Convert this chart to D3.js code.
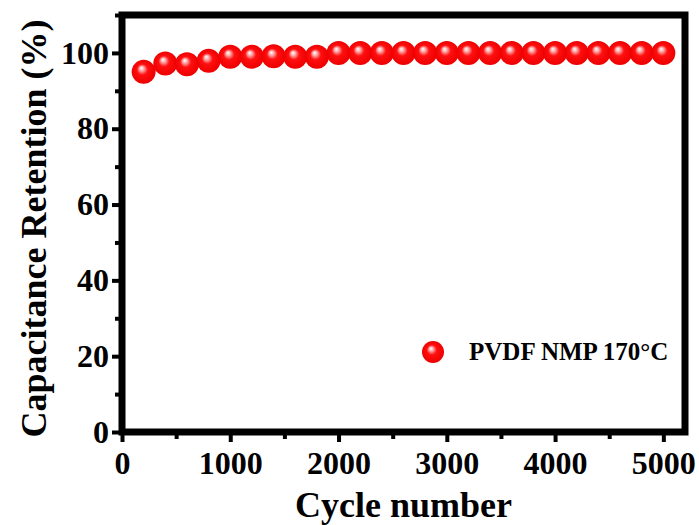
<!DOCTYPE html>
<html>
<head>
<meta charset="utf-8">
<script src="https://cdn.jsdelivr.net/npm/d3@7/dist/d3.min.js"></script>
<style>
  html, body { margin: 0; padding: 0; background: #fff; }
  #chart { width: 699px; height: 525px; }
  text { font-family: "Liberation Serif", "Times New Roman", serif; font-weight: bold; }
</style>
</head>
<body>
<div id="chart"></div>
<script>
// cycles (x) and retention in % (y)
const cycles = [200, 400, 600, 800, 1000, 1200, 1400, 1600, 1800, 2000,
  2200, 2400, 2600, 2800, 3000, 3200, 3400, 3600, 3800, 4000,
  4200, 4400, 4600, 4800, 5000];
const retention = [95.0, 97.2, 97.0, 97.9, 99.0, 99.0, 99.1, 99.0, 99.0, 100,
  100, 100, 100, 100, 100, 100, 100, 100, 100, 100,
  100, 100, 100, 100, 100];
const seriesName = "PVDF NMP 170°C";
const xTicks = [0, 1000, 2000, 3000, 4000, 5000];
const xMinor = [500, 1500, 2500, 3500, 4500];
const yTicks = [0, 20, 40, 60, 80, 100];
const yMinor = [10, 30, 50, 70, 90, 110];

(function () {
  const width = 699, height = 525;
  const margin = { top: 15, right: 14, bottom: 93, left: 122 };
  const innerW = width - margin.left - margin.right;
  const innerH = height - margin.top - margin.bottom;

  const svg = d3.select("#chart").append("svg")
    .attr("width", width)
    .attr("height", height);

  // --- gradient for the glossy red balls ---
  const grad = svg.append("defs").append("radialGradient")
    .attr("id", "ball")
    .attr("cx", "50%").attr("cy", "50%").attr("r", "50%")
    .attr("fx", "40%").attr("fy", "33%");
  grad.append("stop").attr("offset", "0%").attr("stop-color", "#ffffff");
  grad.append("stop").attr("offset", "18%").attr("stop-color", "#ffb0b0");
  grad.append("stop").attr("offset", "45%").attr("stop-color", "#ff0f0f");
  grad.append("stop").attr("offset", "100%").attr("stop-color", "#ee0000");

  const g = svg.append("g")
    .attr("transform", `translate(${margin.left},${margin.top})`);

  // --- scales ---
  const x = d3.scaleLinear().domain([0, 5200]).range([0, innerW]);
  const y = d3.scaleLinear().domain([0, 110]).range([innerH, 0]);

  // --- axes (major + minor ticks) ---
  const xAxis = g.append("g")
    .attr("transform", `translate(0,${innerH})`)
    .call(d3.axisBottom(x).tickValues(xTicks).tickSize(10).tickPadding(9).tickFormat(d3.format("d")));
  const xAxisMinor = g.append("g")
    .attr("transform", `translate(0,${innerH})`)
    .call(d3.axisBottom(x).tickValues(xMinor).tickSize(7).tickFormat(""));

  const yAxis = g.append("g")
    .call(d3.axisLeft(y).tickValues(yTicks).tickSize(10).tickPadding(3));
  const yAxisMinor = g.append("g")
    .call(d3.axisLeft(y).tickValues(yMinor).tickSize(7).tickFormat(""));

  [xAxis, xAxisMinor, yAxis, yAxisMinor].forEach((a) => {
    a.select(".domain").remove();
    a.selectAll("line").attr("stroke", "#000").attr("stroke-width", 4);
    a.selectAll("text")
      .attr("fill", "#000")
      .style("font-size", "32px");
  });

  // --- frame ---
  g.append("rect")
    .attr("x", 0).attr("y", 0)
    .attr("width", innerW).attr("height", innerH)
    .attr("fill", "none")
    .attr("stroke", "#000")
    .attr("stroke-width", 7);

  // --- points ---
  const data = cycles.map((c, i) => ({ cycle: c, value: retention[i] }));
  g.selectAll("circle.pt")
    .data(data)
    .enter()
    .append("circle")
    .attr("class", "pt")
    .attr("cx", (d) => x(d.cycle))
    .attr("cy", (d) => y(d.value))
    .attr("r", 12)
    .attr("fill", "url(#ball)");

  // --- legend ---
  const leg = g.append("g").attr("transform", `translate(${433 - margin.left},${352 - margin.top})`);
  leg.append("circle").attr("r", 11).attr("fill", "url(#ball)");
  leg.append("text")
    .attr("x", 36)
    .attr("y", 8)
    .style("font-size", "25px")
    .attr("fill", "#000")
    .text(seriesName);

  // --- axis titles ---
  svg.append("text")
    .attr("x", margin.left + innerW / 2)
    .attr("y", 517)
    .attr("text-anchor", "middle")
    .style("font-size", "36px")
    .text("Cycle number");

  svg.append("text")
    .attr("transform", "rotate(-90)")
    .attr("x", -(margin.top + innerH / 2) - 5)
    .attr("y", 46)
    .attr("text-anchor", "middle")
    .style("font-size", "36px")
    .text("Capacitance Retention (%)");
})();
</script>
</body>
</html>
